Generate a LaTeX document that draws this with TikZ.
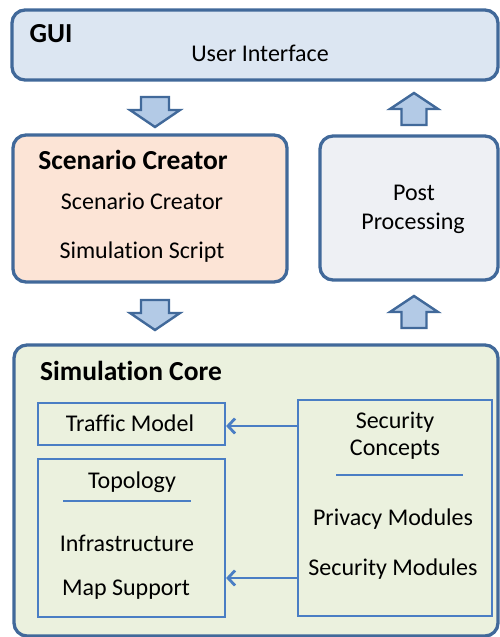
\documentclass[tikz,border=0pt]{standalone}
\usepackage{fontspec}
\setmainfont{Carlito}[Ligatures=NoCommon]
\usetikzlibrary{arrows.meta}
\definecolor{outline}{HTML}{41699A}
\definecolor{guifill}{HTML}{DCE6F2}
\definecolor{scenfill}{HTML}{FCE4D6}
\definecolor{postfill}{HTML}{EEF0F4}
\definecolor{corefill}{HTML}{EBF1DE}
\definecolor{arrowfill}{HTML}{B3CAE6}
\definecolor{inner}{HTML}{4A7EC4}
\tikzset{
  panel/.style={draw=outline, line width=3.3pt, rounded corners=13pt},
  heading/.style={font=\bfseries\fontsize{27.5}{30}\selectfont, inner sep=0pt},
  label/.style={font=\fontsize{24}{28}\selectfont, inner sep=0pt},
  module/.style={draw=inner, line width=2.2pt},
  rule/.style={draw=inner, line width=2.2pt},
  feed/.style={draw=inner, line width=2.8pt, -{Straight Barb[length=7pt,width=15pt,line width=2.8pt]}},
  blockarrow/.style={draw=outline, fill=arrowfill, line width=2.4pt, line join=miter}
}
\begin{document}
\begin{tikzpicture}[x=1pt, y=-1pt]
\useasboundingbox (0,0) rectangle (499,637);

% GUI panel
\draw[panel, fill=guifill] (12,10) rectangle (498,80);
\node[heading] (gui) at (51,34) {GUI};
\node[label] (ui) at (260,53) {User Interface};

% Scenario creator panel
\draw[panel, fill=scenfill] (13,135) rectangle (287,282);
\node[heading] (scenhead) at (133,160) {Scenario Creator};
\node[label] (scen) at (142,201) {Scenario Creator};
\node[label] (script) at (142,252) {Simulation Script};

% Post processing panel
\draw[panel, fill=postfill] (320,136) rectangle (498,280);
\node[label] (post1) at (414,193) {Post};
\node[label] (post2) at (413,223) {Processing};

% Block arrows between the panels
\newcommand{\downarrowblock}[2]{%
  \draw[blockarrow] (#1-14,#2) -- (#1+14,#2) -- (#1+14,#2+13) -- (#1+25,#2+13)
    -- (#1,#2+30) -- (#1-25,#2+13) -- (#1-14,#2+13) -- cycle;}
\newcommand{\uparrowblock}[2]{%
  \draw[blockarrow] (#1-12.5,#2) -- (#1+12.5,#2) -- (#1+12.5,#2-16) -- (#1+24,#2-16)
    -- (#1,#2-32) -- (#1-24,#2-16) -- (#1-12.5,#2-16) -- cycle;}
\downarrowblock{155}{97}
\downarrowblock{155}{300}
\uparrowblock{414}{125}
\uparrowblock{414}{328}

% Simulation core panel
\draw[panel, fill=corefill] (14,345) rectangle (498,636);
\node[heading] (corehead) at (131,371) {Simulation Core};

% Traffic model
\node[module, minimum width=187pt, minimum height=42pt, inner sep=0pt] (traffic) at (131.5,424) {};
\node[label] (traffictxt) at (130,423) {Traffic Model};

% Topology
\node[module, minimum width=187pt, minimum height=158pt, inner sep=0pt] (topo) at (131.5,538) {};
\node[label] (topohead) at (132,482) {Topology};
\draw[rule] (63,501) -- (191,501);
\node[label] (infra) at (127,543) {Infrastructure};
\node[label] (map) at (126,590) {Map Support};

% Security concepts
\node[module, minimum width=194pt, minimum height=216pt, inner sep=0pt] (sec) at (395,508) {};
\node[label] (sechead1) at (395,422) {Security};
\node[label] (sechead2) at (395,450) {Concepts};
\draw[rule] (336,475) -- (463,475);
\node[label] (privacy) at (393,519) {Privacy Modules};
\node[label] (secmod) at (393,569) {Security Modules};

% Data flow from security concepts into the core models
\coordinate (s1) at (298,426);
\coordinate (s2) at (298,578);
\draw[feed] (s1) -- (traffic.east |- s1);
\draw[feed] (s2) -- (topo.east |- s2);
\end{tikzpicture}
\end{document}
